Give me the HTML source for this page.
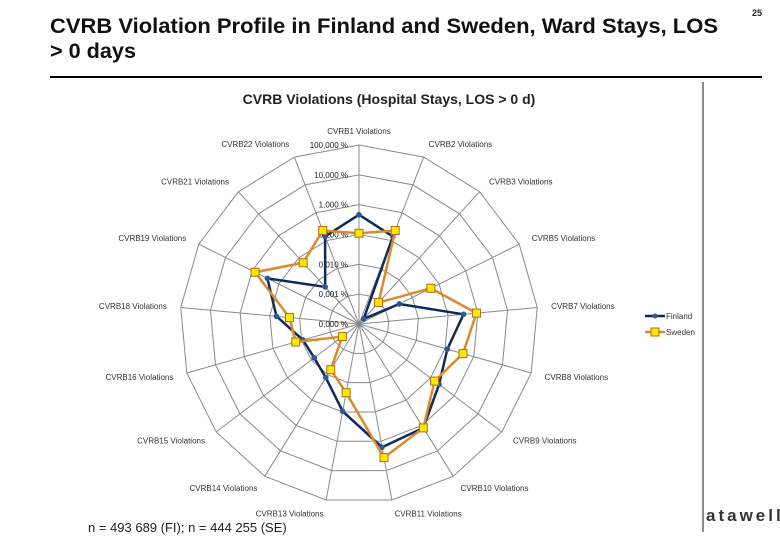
<!DOCTYPE html>
<html><head><meta charset="utf-8"><style>
html,body{margin:0;padding:0;background:#fff;}
svg{display:block;font-family:"Liberation Sans",sans-serif;}
</style></head><body>
<svg id="s" width="780" height="540" viewBox="0 0 780 540">
<text x="50" y="33" font-size="21" font-weight="bold" fill="#111" textLength="668" lengthAdjust="spacingAndGlyphs">CVRB Violation Profile in Finland and Sweden, Ward Stays, LOS</text>
<text x="50" y="58" font-size="21" font-weight="bold" fill="#111" textLength="86" lengthAdjust="spacingAndGlyphs">&gt; 0 days</text>
<text x="752" y="16" font-size="9" font-weight="bold" fill="#222">25</text>
<line x1="50" y1="77" x2="762" y2="77" stroke="#000" stroke-width="2"/>
<line x1="703" y1="82" x2="703" y2="532" stroke="#666" stroke-width="1.5"/>
<text x="389" y="104" font-size="14" font-weight="bold" fill="#222" text-anchor="middle">CVRB Violations (Hospital Stays, LOS &gt; 0 d)</text>
<g id="grid"></g>
<g id="plot"></g>
<g>
<g>
<line x1="645" y1="316" x2="665" y2="316" stroke="#0d2a5c" stroke-width="2.5"/>
<circle cx="655" cy="316" r="2.5" fill="#2a5a9a"/>
<text x="666" y="319" font-size="8" fill="#333">Finland</text></g>
<g>
<line x1="645" y1="332" x2="665" y2="332" stroke="#d98a2b" stroke-width="2.5"/>
<rect x="651" y="328" width="8" height="8" fill="#ffe800" stroke="#b06d16" stroke-width="1"/>
<text x="666" y="335" font-size="8" fill="#333">Sweden</text></g>
</g>
<text x="88" y="532" font-size="13" fill="#222">n = 493 689 (FI); n = 444 255 (SE)</text>
<text x="706" y="521" font-size="17" font-weight="bold" fill="#333" letter-spacing="3">atawell</text>
</svg>
<script>
const categories=["CVRB1 Violations","CVRB2 Violations","CVRB3 Violations","CVRB5 Violations","CVRB7 Violations","CVRB8 Violations","CVRB9 Violations","CVRB10 Violations","CVRB11 Violations","CVRB13 Violations","CVRB14 Violations","CVRB15 Violations","CVRB16 Violations","CVRB18 Violations","CVRB19 Violations","CVRB21 Violations","CVRB22 Violations"];
const finland=[0.46,0.14,0.00017,0.0032,0.33,0.12,0.23,1.25,1.6,0.095,0.013,0.0076,0.009,0.06,0.27,0.0048,0.14];
const sweden=[0.11,0.23,0.00094,0.049,0.9,0.42,0.15,1.25,3.6,0.022,0.0063,0.0005,0.016,0.022,0.78,0.06,0.23];
const tickValues=[0.0001,0.001,0.01,0.1,1,10,100];
const tickLabels=["0,000 %","0,001 %","0,010 %","0,100 %","1,000 %","10,000 %","100,000 %"];

const NS="http://www.w3.org/2000/svg";
const cx=359,cy=324,R=179,logMin=-4,logMax=2;
function rScale(v){let l=Math.log10(v);l=Math.max(logMin,Math.min(logMax,l));return (l-logMin)/(logMax-logMin)*R;}
function ang(i){return i*2*Math.PI/categories.length;}
function pt(i,r){return [cx+r*Math.sin(ang(i)),cy-r*Math.cos(ang(i))];}
function mk(tag,attrs,parent){const e=document.createElementNS(NS,tag);for(const k in attrs)e.setAttribute(k,attrs[k]);parent.appendChild(e);return e;}
const grid=document.getElementById('grid'),plot=document.getElementById('plot');
tickValues.forEach((tv,j)=>{
  const r=rScale(tv);if(r<=0)return;
  const pts=categories.map((c,i)=>pt(i,r).join(',')).join(' ');
  const p=mk('polygon',{points:pts,fill:'none',stroke:'#8a8a8a','stroke-width':1},grid);
  
  
});
categories.forEach((c,i)=>{
  const [x,y]=pt(i,R);
  const l=mk('line',{x1:cx,y1:cy,x2:x,y2:y,stroke:'#8a8a8a','stroke-width':1},grid);
  
  
  const [tx,ty]=pt(i,R+14);
  const s=Math.sin(ang(i));
  const anchor=Math.abs(s)<0.15?'middle':(s>0?'start':'end');
  const t=mk('text',{x:tx,y:ty+3,'font-size':8,fill:'#333','text-anchor':anchor},grid);
  t.textContent=c;
  
  
});
tickValues.forEach((tv,j)=>{
  const r=rScale(tv);
  const t=mk('text',{x:cx-11,y:cy-r+3,'font-size':8,fill:'#222','text-anchor':'end'},grid);
  t.textContent=tickLabels[j];
  
  
});
function series(vals,color,name,marker){
  const pts=vals.map((v,i)=>pt(i,rScale(v)));
  const pg=mk('polygon',{points:pts.map(p=>p.join(',')).join(' '),fill:'none',stroke:color,'stroke-width':2.5,'stroke-linejoin':'round'},plot);
  
  
  pts.forEach(p=>{
    let m;
    if(marker==='sq'){m=mk('rect',{x:p[0]-4,y:p[1]-4,width:8,height:8,fill:'#ffe800',stroke:'#b06d16','stroke-width':1},plot);}
    else{m=mk('circle',{cx:p[0],cy:p[1],r:2.8,fill:'#2a5a9a'},plot);}
    
    
  });
}
series(finland,'#0d2a5c','finland','dot');
series(sweden,'#d98a2b','sweden','sq');
</script>
</body></html>
